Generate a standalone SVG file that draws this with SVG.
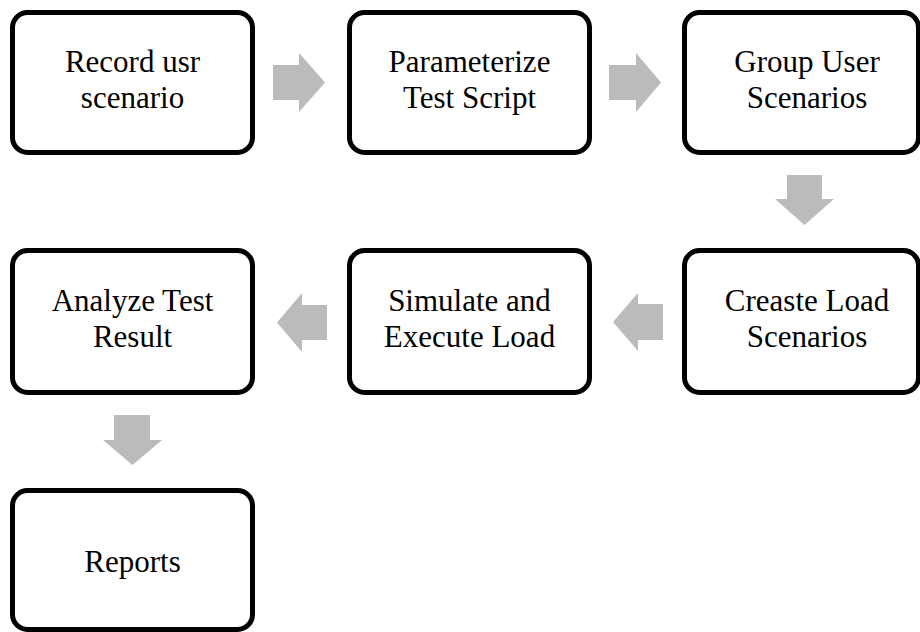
<svg xmlns="http://www.w3.org/2000/svg" width="920" height="632" viewBox="0 0 920 632">
<style>
.box{fill:#fff;stroke:#000;stroke-width:5}
.lbl{font-family:"Liberation Serif","Times New Roman",serif;font-size:31px;fill:#000;text-anchor:middle}
.arr{fill:#bbbbbb}
</style>
<rect width="920" height="632" fill="#fff"/>
<g id="connectors">
<polygon class="arr" points="273,65 299,65 299,53 325,82.5 299,112 299,100 273,100"/>
<polygon class="arr" points="609,65 636,65 636,53 661,82.5 636,112 636,100 609,100"/>
<polygon class="arr" points="787,175 822,175 822,199 834,199 804.5,225 775,199 787,199"/>
<polygon class="arr" points="663,304 638,304 638,293 613,322 638,351 638,340 663,340"/>
<polygon class="arr" points="327,305 302,305 302,293 277,322.5 302,352 302,340 327,340"/>
<polygon class="arr" points="114,415 150,415 150,440 162,440 132.5,465 103,440 114,440"/>
</g>
<g id="n1"><rect class="box" x="12.5" y="12.5" width="240" height="140" rx="15"/><text class="lbl" x="132.5" y="72">Record usr</text><text class="lbl" x="132.5" y="108">scenario</text></g>
<g id="n2"><rect class="box" x="349.5" y="12.5" width="240" height="140" rx="15"/><text class="lbl" x="469.5" y="72">Parameterize</text><text class="lbl" x="469.5" y="108">Test Script</text></g>
<g id="n3"><rect class="box" x="684.5" y="12.5" width="234" height="140" rx="15"/><text class="lbl" x="807" y="72">Group User</text><text class="lbl" x="807" y="108">Scenarios</text></g>
<g id="n4"><rect class="box" x="684.5" y="250.5" width="234" height="142" rx="15"/><text class="lbl" x="807" y="311">Creaste Load</text><text class="lbl" x="807" y="347">Scenarios</text></g>
<g id="n5"><rect class="box" x="349.5" y="250.5" width="240" height="142" rx="15"/><text class="lbl" x="469.5" y="311">Simulate and</text><text class="lbl" x="469.5" y="347">Execute Load</text></g>
<g id="n6"><rect class="box" x="12.5" y="250.5" width="240" height="142" rx="15"/><text class="lbl" x="132.5" y="311">Analyze Test</text><text class="lbl" x="132.5" y="347">Result</text></g>
<g id="n7"><rect class="box" x="12.5" y="490.5" width="240" height="139" rx="15"/><text class="lbl" x="132.5" y="572">Reports</text></g>
</svg>
